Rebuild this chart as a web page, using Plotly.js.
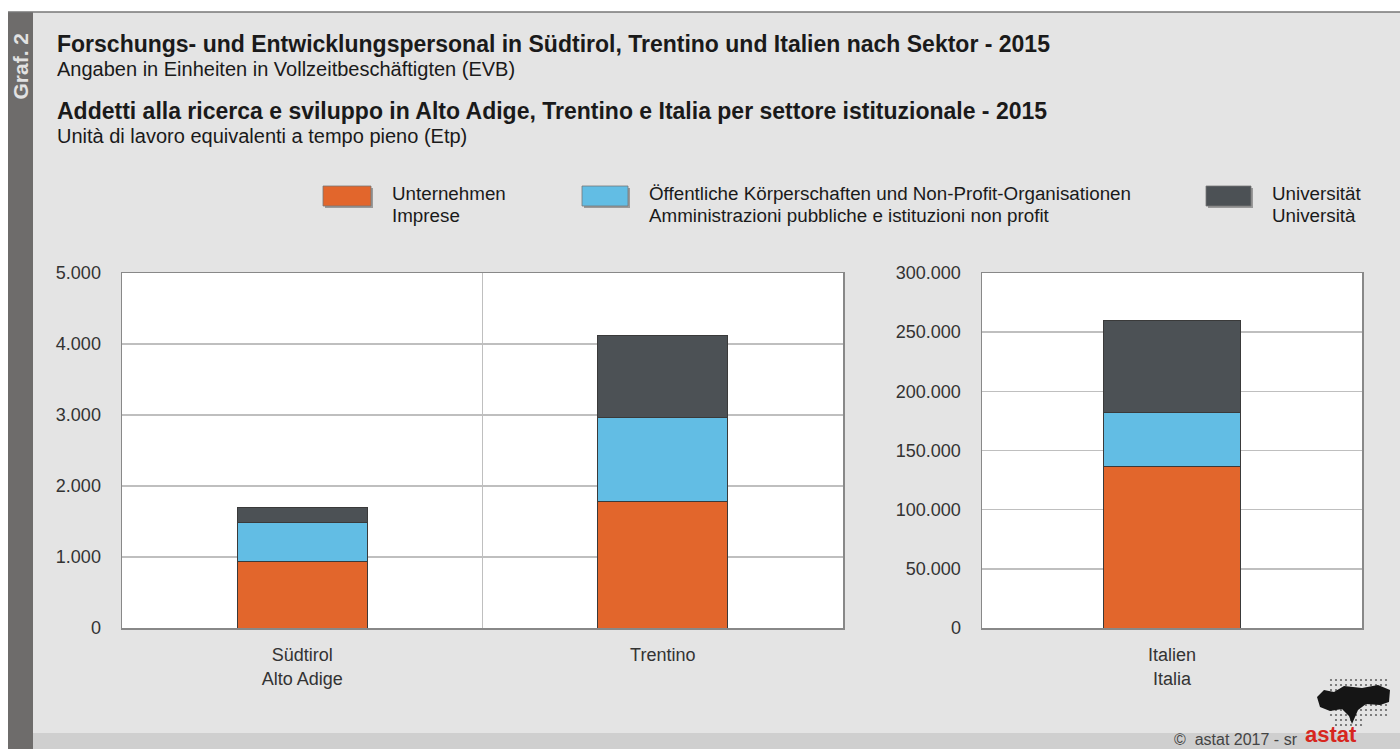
<!DOCTYPE html>
<html>
<head>
<meta charset="utf-8">
<script src="https://cdn.plot.ly/plotly-3.0.1.min.js"></script>
<style>
  body { margin: 0; padding: 0; background: #fff; }
  #chart { width: 1400px; height: 749px; }
</style>
</head>
<body>
<div id="chart"></div>
<script>
// categories
var regions = ['Südtirol<br>Alto Adige', 'Trentino'];
var nation = ['Italien<br>Italia'];

// values, full-time equivalents, 2015
var unternehmen = [930, 1775];
var oeffentliche = [557, 1191];
var universitaet = [217, 1151];

var italienUnternehmen = [136600];
var italienOeffentliche = [45350];
var italienUniversitaet = [77750];

var namesDe = ['Unternehmen', 'Öffentliche Körperschaften und Non-Profit-Organisationen', 'Universität'];
var namesIt = ['Imprese', 'Amministrazioni pubbliche e istituzioni non profit', 'Università'];
var colors = ['#e2662c', '#62bde4', '#4c5155'];

var W = 1400, H = 749;
function px(x) { return x / W; }
function py(y) { return 1 - y / H; }

var font = 'Liberation Sans, Arial, sans-serif';
var barLine = {color: '#3a3a3a', width: 1};

function bar(x, y, i, xa, ya) {
  return {
    type: 'bar', x: x, y: y, name: namesDe[i],
    xaxis: xa, yaxis: ya, width: 0.36,
    marker: {color: colors[i], line: barLine},
    showlegend: false, hoverinfo: 'y'
  };
}

var data = [
  bar(regions, unternehmen, 0, 'x', 'y'),
  bar(regions, oeffentliche, 1, 'x', 'y'),
  bar(regions, universitaet, 2, 'x', 'y'),
  bar(nation, italienUnternehmen, 0, 'x2', 'y2'),
  bar(nation, italienOeffentliche, 1, 'x2', 'y2'),
  bar(nation, italienUniversitaet, 2, 'x2', 'y2')
];

var frame = '#888888', grid = '#bfbfbf';
var tickFont = {family: font, size: 18, color: '#333'};

var xBase = {
  type: 'category', showline: true, mirror: true, linecolor: frame, linewidth: 1.5,
  showgrid: true, gridcolor: grid, gridwidth: 1.5, tickson: 'boundaries',
  ticks: '', ticklabelstandoff: 10,
  tickfont: tickFont, fixedrange: true
};
var yBase = {
  showline: true, mirror: true, linecolor: frame, linewidth: 1.5,
  gridcolor: grid, gridwidth: 1.5, zeroline: false,
  ticks: 'outside', ticklen: 16, tickcolor: 'rgba(0,0,0,0)',
  tickformat: ',d', tickfont: tickFont, fixedrange: true
};

var yDom = [py(628), py(273)];

var layout = {
  width: W, height: H,
  margin: {l: 0, r: 0, t: 0, b: 0},
  paper_bgcolor: '#e4e4e4', plot_bgcolor: '#ffffff',
  separators: ',.',
  barmode: 'stack',
  showlegend: false,
  font: {family: font, color: '#222'},
  xaxis: Object.assign({}, xBase, {domain: [px(122), px(843)], range: [-0.5, 1.5], anchor: 'y'}),
  yaxis: Object.assign({}, yBase, {domain: yDom, range: [0, 5000], dtick: 1000, anchor: 'x'}),
  xaxis2: Object.assign({}, xBase, {domain: [px(982), px(1362)], range: [-0.5, 0.5], anchor: 'y2'}),
  yaxis2: Object.assign({}, yBase, {domain: yDom, range: [0, 300000], dtick: 50000, anchor: 'x2'}),
  shapes: [],
  annotations: []
};

// page frame: white top, dark left strip, footer band
layout.shapes.push(
  {type: 'rect', xref: 'paper', yref: 'paper', x0: 0, x1: 1, y0: py(12), y1: 1, fillcolor: '#ffffff', line: {width: 0}, layer: 'below'},
  {type: 'rect', xref: 'paper', yref: 'paper', x0: 0, x1: px(8), y0: 0, y1: 1, fillcolor: '#ffffff', line: {width: 0}, layer: 'below'},
  {type: 'line', xref: 'paper', yref: 'paper', x0: px(8), x1: 1, y0: py(12), y1: py(12), line: {color: '#777', width: 1.5}},
  {type: 'rect', xref: 'paper', yref: 'paper', x0: px(8), x1: px(33), y0: 0, y1: py(12), fillcolor: '#6e6c6b', line: {width: 0}, layer: 'below'},
  {type: 'rect', xref: 'paper', yref: 'paper', x0: px(33), x1: 1, y0: 0, y1: py(733), fillcolor: '#cfcfcf', line: {width: 0}, layer: 'below'}
);

// titles
function note(text, x, y, size, bold, extra) {
  var a = {
    xref: 'paper', yref: 'paper', x: px(x), y: py(y), xanchor: 'left', yanchor: 'middle',
    showarrow: false, align: 'left',
    text: bold ? '<b>' + text + '</b>' : text,
    font: {family: font, size: size, color: '#1a1a1a'}
  };
  return Object.assign(a, extra || {});
}
layout.annotations.push(
  note('Forschungs- und Entwicklungspersonal in Südtirol, Trentino und Italien nach Sektor - 2015', 55, 44, 23, true),
  note('Angaben in Einheiten in Vollzeitbeschäftigten (EVB)', 55, 69, 20, false),
  note('Addetti alla ricerca e sviluppo in Alto Adige, Trentino e Italia per settore istituzionale - 2015', 55, 111, 23, true),
  note('Unità di lavoro equivalenti a tempo pieno (Etp)', 55, 136, 20, false),
  {xref: 'paper', yref: 'paper', x: px(20.5), y: py(66), xanchor: 'center', yanchor: 'middle',
   showarrow: false, textangle: -90, text: '<b>Graf. 2</b>',
   font: {family: font, size: 21, color: '#e2e2e2'}}
);

// legend
var legX = [323, 582, 1206];
var legW = [48, 46, 45];
for (var i = 0; i < 3; i++) {
  layout.shapes.push(
    {type: 'rect', xref: 'paper', yref: 'paper', x0: px(legX[i] + 2), x1: px(legX[i] + legW[i] + 2),
     y0: py(208), y1: py(188), fillcolor: '#9a9a9a', line: {width: 0}},
    {type: 'rect', xref: 'paper', yref: 'paper', x0: px(legX[i]), x1: px(legX[i] + legW[i]),
     y0: py(206), y1: py(186), fillcolor: colors[i], line: {color: '#777', width: 0.8}}
  );
  var tx = legX[i] + legW[i] + 19;
  layout.annotations.push(note(namesDe[i], tx, 193, 18.8, false), note(namesIt[i], tx, 215, 18.8, false));
}

// footer
layout.annotations.push(
  note('©  astat 2017 - sr', 1172, 739, 16, false, {font: {family: font, size: 16, color: '#444'}}),
  note('astat', 1303, 734, 22, true, {font: {family: font, size: 22, color: '#d7261e'}})
);

// logo: dot grid with a dark silhouette on top
var dots = [];
for (var r = 0; r < 10; r++) {
  for (var c = 0; c < 12; c++) {
    var dx = 1331 + c * 5, dy = 680 + r * 5;
    if (r > 7 && (c < 1 || c > 6)) continue;
    dots.push({type: 'circle', xref: 'paper', yref: 'paper',
      x0: px(dx - 1.1), x1: px(dx + 1.1), y0: py(dy + 1.1), y1: py(dy - 1.1),
      fillcolor: '#666', line: {width: 0}});
  }
}
layout.shapes = layout.shapes.concat(dots);
var logo = [[1317, 697], [1324, 690], [1334, 692], [1344, 686], [1362, 688], [1378, 685], [1390, 690],
            [1389, 702], [1380, 705], [1366, 704], [1358, 710], [1355, 717], [1352, 724], [1349, 716],
            [1342, 709], [1330, 711], [1320, 707]];
var path = logo.map(function (p, k) { return (k ? 'L' : 'M') + px(p[0]) + ',' + py(p[1]); }).join(' ') + ' Z';
layout.shapes.push({type: 'path', xref: 'paper', yref: 'paper', path: path, fillcolor: '#151515', line: {width: 0}});

Plotly.newPlot('chart', data, layout, {displayModeBar: false, staticPlot: true});
</script>
</body>
</html>
